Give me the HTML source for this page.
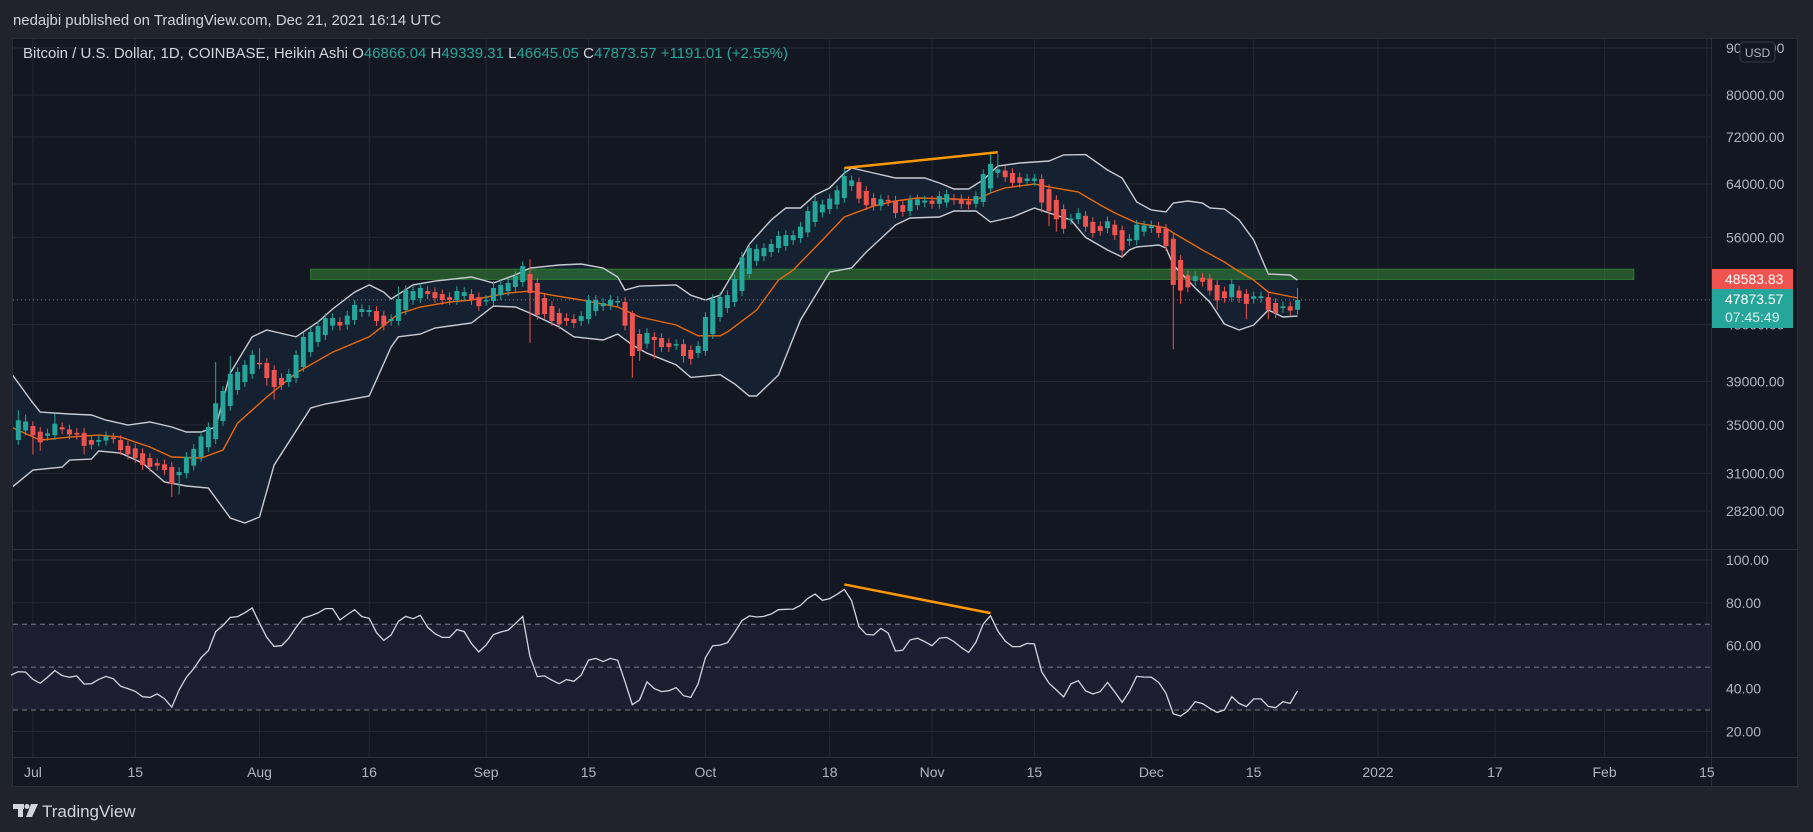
<!DOCTYPE html>
<html><head><meta charset="utf-8"><style>
html,body{margin:0;padding:0;background:#20232c;width:1813px;height:832px;overflow:hidden}
svg{display:block;font-family:"Liberation Sans",sans-serif}
</style></head><body>
<svg id="chart" width="1813" height="832" viewBox="0 0 1813 832" xmlns="http://www.w3.org/2000/svg">
<rect x="0" y="0" width="1813" height="832" fill="#20232c"/>
<text x="13" y="25" fill="#d1d4dc" font-size="15" textLength="428" lengthAdjust="spacingAndGlyphs">nedajbi published on TradingView.com, Dec 21, 2021 16:14 UTC</text>
<rect x="12.5" y="38.5" width="1785" height="748" fill="#131722" stroke="#2a2e39"/>
<g id="grid"></g>
<rect x="13" y="624.3" width="1698" height="85.7" fill="#1e1e33"/>
<g id="plot"></g>
<line x1="13" y1="549.5" x2="1797" y2="549.5" stroke="#2a2e39"/>
<line x1="1711.5" y1="39" x2="1711.5" y2="786" stroke="#2a2e39"/>
<line x1="13" y1="757.5" x2="1797" y2="757.5" stroke="#2a2e39"/>
<g id="axes"></g>
<text x="23" y="58" font-size="14.5" textLength="765" lengthAdjust="spacingAndGlyphs"><tspan fill="#d1d4dc">Bitcoin / U.S. Dollar, 1D, COINBASE, Heikin Ashi  O</tspan><tspan fill="#26a69a">46866.04</tspan><tspan fill="#d1d4dc">  H</tspan><tspan fill="#26a69a">49339.31</tspan><tspan fill="#d1d4dc">  L</tspan><tspan fill="#26a69a">46645.05</tspan><tspan fill="#d1d4dc">  C</tspan><tspan fill="#26a69a">47873.57  +1191.01 (+2.55%)</tspan></text>
<g>
<rect x="13" y="804" width="11" height="5" fill="#d1d4dc"/><rect x="18" y="804" width="5" height="13" fill="#d1d4dc"/>
<circle cx="27" cy="806.5" r="2.5" fill="#d1d4dc"/><polygon points="31,804 38,804 32,817 26,817" fill="#d1d4dc"/>
<text x="42" y="817" fill="#d1d4dc" font-size="17">TradingView</text>
</g>
</svg>
<script>
// ---- data ----
const startDate = "2021-06-29";
const opens = [33700,34500,34900,34400,34050,34100,34800,34600,34300,34300,33700,33550,33650,33900,33700,33200,33000,32600,32200,31800,31700,31500,30850,31000,31600,32300,33100,33770,35330,36700,38190,38960,39760,40880,40880,40160,39360,38960,39360,40460,42010,43070,43830,44880,45290,44990,45520,46440,46440,46550,46020,45410,45410,46670,47860,48080,48940,48810,48570,48200,47860,48330,48570,48200,47740,47740,48450,48940,49440,50060,51080,49940,48100,47130,46320,45740,45630,45410,45630,46550,47130,47250,47620,47620,46320,43950,42890,43620,43510,42960,42750,42850,42220,41900,42120,43950,45860,46900,47620,48940,51080,52770,53410,53980,54520,54800,55600,55900,56700,58200,59600,60100,60800,61800,63700,64300,62900,61800,60600,61500,61400,60700,59800,60700,61100,61400,60900,61100,61700,61600,61300,60900,61200,63300,65800,66200,65800,65100,64500,64500,64800,63200,61500,60100,58500,58600,59100,58200,57600,57300,57800,57000,55500,55600,56800,57300,57500,57200,55800,52900,50900,50200,50600,50500,49700,48900,48200,49000,48600,48000,48100,48200,47500,46900,47100,46700];
const closes = [35400,35300,34100,33500,34250,35100,34600,34150,34150,33200,33300,33700,34000,33800,32850,32500,32200,31650,31500,31600,31250,30200,31100,32300,32950,34000,34800,36940,38100,39760,39960,40670,41700,40780,39360,38480,38670,39760,41700,43620,44170,44830,45740,45740,44880,46020,47270,46780,46670,45400,44880,45630,47980,49070,48940,49320,48570,48080,47860,47860,48940,48810,47860,47130,47860,49320,49700,49940,50820,52110,48700,46100,46210,45410,45020,45410,45180,45970,47860,47860,47500,47860,47740,44880,41590,42120,44060,43290,42530,42530,42850,41590,41290,42640,45860,47980,48220,48450,50440,53250,54520,54380,54520,55070,56180,56330,56300,57500,59800,61300,60800,61700,63000,65300,64600,61700,60700,60600,61600,61300,59500,59700,61500,61600,61400,60900,62100,62400,61500,60900,60800,62100,65600,67300,66400,65100,64200,64200,64900,64900,61100,59800,58600,57200,58700,59500,57500,56600,56900,58300,56300,54200,55800,57800,57700,57700,56600,54800,49700,49000,49400,50800,50100,49000,47800,48100,49800,48100,47400,48300,48300,46700,46300,47100,46600,47870];
// notable wick extremes [candleIndex, price]
const wickHighs = [[0,36300],[1,35900],[5,36000],[27,40970],[29,41600],[33,42400],[52,49500],[65,50200],[70,53000],[84,46600],[99,54000],[113,66620],[133,69300],[134,69000],[158,56500],[175,49340]];
const wickLows = [[2,32500],[3,32800],[9,32500],[21,29200],[22,29400],[34,38600],[35,37300],[70,43000],[84,39400],[85,41100],[87,41300],[91,40900],[92,40700],[140,59600],[141,57600],[142,56800],[151,53300],[158,42300],[159,47400],[164,46700],[168,45600],[171,45600]];
// Bollinger bands [candleIndex, price]
const bbUpper = [[-1,39860],[2,36970],[3,36140],[7,35960],[10,35870],[12,35420],[15,34980],[18,35250],[21,34810],[23,34380],[25,34380],[27,34810],[29,39860],[32,43640],[34,44390],[38,43640],[41,45290],[43,46790],[46,48820],[48,49700],[50,48820],[51,47980],[54,49700],[57,50180],[62,50700],[65,49940],[68,50960],[70,51850],[74,52240],[77,52380],[80,51850],[82,50700],[83,49070],[85,49560],[90,49700],[92,48440],[94,47860],[96,48440],[99,53170],[100,55060],[103,58480],[105,60270],[107,60270],[109,62260],[111,63380],[113,65790],[114,66620],[117,65790],[120,64970],[124,64970],[126,64160],[128,63210],[130,63210],[132,64650],[134,66960],[137,67470],[141,67810],[143,68840],[146,68900],[149,66290],[151,64970],[153,61180],[155,59970],[157,59680],[158,61030],[160,61330],[162,61030],[163,60270],[165,60120],[167,58480],[169,55620],[171,51080],[174,50950],[175,50310]];
const bbBasis = [[-1,34810],[3,33690],[7,33940],[11,34110],[14,33940],[18,33110],[21,32290],[25,32200],[28,32860],[30,35150],[34,37530],[38,39860],[43,41990],[48,43640],[52,46210],[55,47020],[59,47620],[62,47860],[67,48690],[70,48940],[73,48440],[77,47860],[82,47020],[85,45860],[90,44950],[93,43750],[96,43750],[97,44170],[101,46670],[104,50310],[106,51590],[110,55620],[113,58930],[117,60560],[120,61330],[123,61800],[128,61640],[131,61490],[133,62580],[135,63380],[139,64010],[141,63540],[145,62740],[148,60720],[150,59530],[153,58050],[157,57340],[158,56620],[162,54250],[165,52640],[166,51990],[169,50310],[171,48820],[175,48100]];
const bbLower = [[-1,29870],[2,31250],[6,31480],[7,32040],[10,32120],[11,32780],[14,32610],[17,31800],[20,30330],[23,30030],[26,29870],[29,27710],[31,27370],[33,27780],[35,31640],[40,36510],[42,36880],[45,37250],[48,37620],[51,42540],[52,43640],[55,43940],[57,44610],[59,44840],[62,45180],[65,47130],[68,47020],[70,46310],[74,44730],[76,43640],[80,43290],[82,43940],[84,42760],[86,41880],[90,40670],[92,39420],[96,39690],[98,38770],[100,37620],[101,37620],[104,39660],[107,45520],[111,51330],[114,51850],[116,53980],[120,57750],[122,58770],[126,58930],[128,59820],[131,59820],[133,58190],[136,58930],[139,60270],[141,59530],[144,58480],[146,55990],[149,54250],[151,53300],[152,54250],[153,54660],[156,54930],[157,54520],[158,52240],[161,49320],[163,47620],[165,45070],[167,44390],[169,44950],[171,46670],[173,45860],[175,45970]];
// RSI values from candle index -1 to 175
const rsi = [46.3,47.9,47.7,44.3,42.5,45.3,48.4,46.0,45.3,45.9,42.1,42.3,44.3,45.7,44.6,41.1,40.0,38.7,36.2,35.9,37.5,35.3,31.3,39.4,45.3,49.3,54.4,57.7,66.6,69.5,73.2,73.6,75.4,77.6,70.5,63.9,59.7,60.0,63.5,68.6,72.9,74.0,75.3,77.3,77.3,72.0,74.5,76.8,73.6,72.8,66.1,62.5,65.0,71.4,73.7,72.6,74.2,68.6,65.6,63.9,63.9,67.5,66.6,61.0,57.1,60.3,65.2,66.4,67.3,70.3,73.7,54.9,45.6,45.9,43.9,42.3,44.2,43.4,46.3,53.3,54.1,52.6,54.1,53.2,43.2,32.5,34.7,43.1,40.0,38.6,39.0,40.4,36.7,35.9,42.2,54.4,60.0,60.3,61.4,66.3,71.7,73.9,73.4,73.7,74.8,76.8,77.0,77.1,78.8,82.1,84.1,81.2,82.0,84.0,86.3,81.0,68.9,65.3,65.0,68.1,65.9,57.5,57.9,62.7,63.5,61.9,60.0,63.5,63.9,61.9,59.1,56.9,61.6,70.1,74.0,66.9,62.2,59.6,59.6,61.1,60.8,47.9,42.5,39.4,36.1,42.2,43.7,38.9,37.5,38.6,42.9,38.4,33.6,38.7,45.7,45.4,45.3,42.9,37.8,28.2,27.2,29.6,33.9,33.0,30.8,28.9,30.0,36.2,33.1,31.6,35.2,35.2,31.7,31.1,33.9,33.1,38.9];
const priceTicks = [90000,80000,72000,64000,56000,45000,39000,35000,31000,28200];
const priceTickLabels = ["90000.00","80000.00","72000.00","64000.00","56000.00","45000.00","39000.00","35000.00","31000.00","28200.00"];
const rsiTicks = [100,80,60,40,20];
const rsiTickLabels = ["100.00","80.00","60.00","40.00","20.00"];
const rsiBands = [70,50,30];
const timeTickIdx = [2,16,33,48,64,78,94,111,125,139,155,169,186,202,217,231];
const timeTickLabels = ["Jul","15","Aug","16","Sep","15","Oct","18","Nov","15","Dec","15","2022","17","Feb","15"];
const zoneTop = 51700, zoneBottom = 50400, zoneStartIdx = 40, zoneEndIdx = 221;
const trendPrice = [[113,66620],[134,69300]];
const trendRsi = [[113,88.6],[133,75.2]];
const lastClose = 47873.57;
const badgeRed = "48583.83", badgeClose = "47873.57", badgeTimer = "07:45:49";

// ---- scales ----
const NS = "http://www.w3.org/2000/svg";
const xOf = i => 18.3 + i * 7.31;
const yP = p => 95 + Math.log(80000 / p) * 399;
const yR = v => 560 + (100 - v) * 2.143;
function mk(tag, attrs, parent) { const e = document.createElementNS(NS, tag); for (const k in attrs) e.setAttribute(k, attrs[k]); parent.appendChild(e); return e; }
const grid = document.getElementById('grid'), plot = document.getElementById('plot'), axes = document.getElementById('axes');

// grid
priceTicks.forEach(p => { const l = mk('line', {x1:13, x2:1711, y1:yP(p), y2:yP(p), stroke:'#242833', 'stroke-width':1}, grid);
  
   });
rsiTicks.forEach(v => { const l = mk('line', {x1:13, x2:1711, y1:yR(v), y2:yR(v), stroke:'#242833', 'stroke-width':1}, grid);
  
   });
timeTickIdx.forEach(i => { const l = mk('line', {x1:xOf(i), x2:xOf(i), y1:39, y2:757, stroke:'#242833', 'stroke-width':1}, grid);
  
   });

// clip
const defs = mk('defs', {}, plot);
const cp = mk('clipPath', {id:'pc'}, defs); mk('rect', {x:13, y:39, width:1698, height:510}, cp);
const gP = mk('g', {'clip-path':'url(#pc)'}, plot);

// Bollinger fill + lines
const pts = (arr) => arr.map(d => xOf(d[0]).toFixed(1) + ',' + yP(d[1]).toFixed(1));
const fill = mk('polygon', {points: pts(bbUpper).concat(pts(bbLower).reverse()).join(' '), fill:'#152130'}, gP);



// green zone
const zone = mk('rect', {x:xOf(zoneStartIdx), y:yP(zoneTop), width:xOf(zoneEndIdx)-xOf(zoneStartIdx), height:yP(zoneBottom)-yP(zoneTop), fill:'rgba(60,160,60,0.45)', stroke:'#2e7d32'}, gP);



const up = mk('polyline', {points: pts(bbUpper).join(' '), fill:'none', stroke:'#c8cad2', 'stroke-width':1.4}, gP);


const lo = mk('polyline', {points: pts(bbLower).join(' '), fill:'none', stroke:'#c8cad2', 'stroke-width':1.4}, gP);


const bs = mk('polyline', {points: pts(bbBasis).join(' '), fill:'none', stroke:'#e8690c', 'stroke-width':1.4}, gP);



// last price dotted line
const dl = mk('line', {x1:13, x2:1711, y1:yP(lastClose), y2:yP(lastClose), stroke:'#26a69a', 'stroke-dasharray':'1,3'}, gP);



// candles
const hiMap = {}, loMap = {};
wickHighs.forEach(d => hiMap[d[0]] = d[1]); wickLows.forEach(d => loMap[d[0]] = d[1]);
for (let i = 0; i < closes.length; i++) {
  const o = opens[i], c = closes[i], g = c >= o, col = g ? '#26a69a' : '#ef5350';
  const top = Math.max(o, c), bot = Math.min(o, c);
  const h = hiMap[i] !== undefined ? hiMap[i] : top * 1.012, l = loMap[i] !== undefined ? loMap[i] : bot * 0.988;
  const cx = xOf(i);
  const w = mk('line', {x1:cx, x2:cx, y1:yP(h), y2:yP(l), stroke:col, 'stroke-width':1}, gP);
  
  
  const yt = yP(top), yb = yP(bot);
  const b = mk('rect', {x:cx-2.5, y:yt, width:5, height:Math.max(1.5, yb-yt), fill:col}, gP);
  
  
}

// trend lines
const tp = mk('line', {x1:xOf(trendPrice[0][0]), y1:yP(trendPrice[0][1]), x2:xOf(trendPrice[1][0]), y2:yP(trendPrice[1][1]), stroke:'#ff9800', 'stroke-width':2.5}, gP);



// RSI
rsiBands.forEach(v => { const l = mk('line', {x1:13, x2:1711, y1:yR(v), y2:yR(v), stroke:'#787b86', 'stroke-dasharray':'5,4', 'stroke-width':1}, plot);
  
   });
const rl = mk('polyline', {points: rsi.map((v, k) => xOf(k-1).toFixed(1) + ',' + yR(v).toFixed(1)).join(' '), fill:'none', stroke:'#d1d4dc', 'stroke-width':1.3}, plot);


const tr = mk('line', {x1:xOf(trendRsi[0][0]), y1:yR(trendRsi[0][1]), x2:xOf(trendRsi[1][0]), y2:yR(trendRsi[1][1]), stroke:'#ff9800', 'stroke-width':2.5}, plot);



// axes labels
priceTicks.forEach((p, k) => { const t = mk('text', {x:1726, y:yP(p)+5, fill:'#b2b5be', 'font-size':14}, axes); t.textContent = priceTickLabels[k];
  
   });
rsiTicks.forEach((v, k) => { const t = mk('text', {x:1726, y:yR(v)+5, fill:'#b2b5be', 'font-size':14}, axes); t.textContent = rsiTickLabels[k];
  
   });
timeTickIdx.forEach((i, k) => { const t = mk('text', {x:xOf(i), y:777, fill:'#b2b5be', 'font-size':14, 'text-anchor':'middle'}, axes); t.textContent = timeTickLabels[k];
  
   });

// badges
const rb = mk('rect', {x:1712, y:269, width:81, height:20, fill:'#ef5350'}, axes);


const rt = mk('text', {x:1725, y:284, fill:'#ffffff', 'font-size':14}, axes); rt.textContent = badgeRed;


const gb = mk('rect', {x:1712, y:289, width:81, height:39, fill:'#26a69a'}, axes);


const gt = mk('text', {x:1725, y:304, fill:'#ffffff', 'font-size':14}, axes); gt.textContent = badgeClose;


const tt = mk('text', {x:1725, y:322, fill:'#d8f0ec', 'font-size':14}, axes); tt.textContent = badgeTimer;


const ub = mk('rect', {x:1740, y:42, width:35, height:20, rx:4, fill:'#131722', stroke:'#363a45'}, axes);


const ut = mk('text', {x:1757.5, y:57, fill:'#b2b5be', 'font-size':12, 'text-anchor':'middle'}, axes); ut.textContent = 'USD';


</script>
</body></html>
